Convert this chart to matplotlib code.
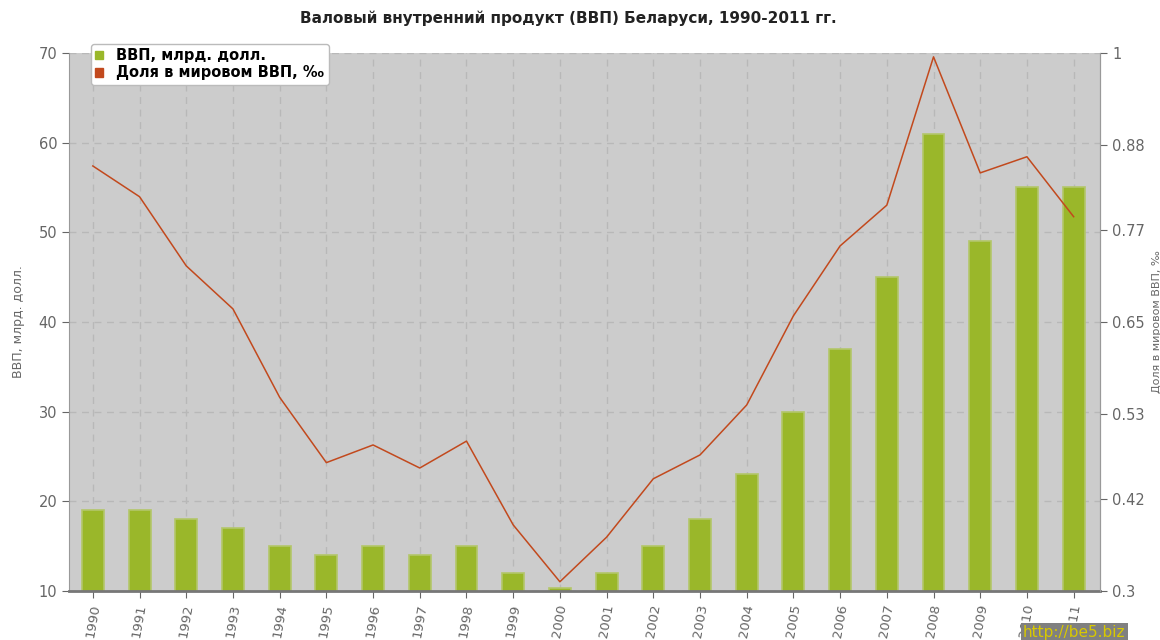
import matplotlib.pyplot as plt
import numpy as np

years = [str(y) for y in range(1990, 2012)]
gdp = [19, 19, 18, 17, 15, 14, 15, 14, 15, 12, 10.3, 12, 15, 18, 23, 30, 37, 45, 61, 49, 55, 55]
share = [0.853, 0.813, 0.723, 0.667, 0.552, 0.467, 0.490, 0.460, 0.495, 0.386, 0.312,
         0.370, 0.446, 0.477, 0.542, 0.658, 0.749, 0.802, 0.995, 0.844, 0.865, 0.787]
left_ticks = [10, 20, 30, 40, 50, 60, 70]
right_ticks = [0.3, 0.42, 0.53, 0.65, 0.77, 0.88, 1]

plt.rcParams['font.family'] = ['DejaVu Sans']
fig = plt.figure(figsize=(11.6, 6.4), dpi=100)
ax = fig.add_axes([0.0595, 0.0766, 0.889, 0.8406])
ax.set_facecolor("#cccccc")

x = np.arange(len(years))
ax.bar(x, gdp, width=0.47, color="#9ab72a", edgecolor="#b3c66a", linewidth=1.2, zorder=2,
       label="ВВП, млрд. долл.")
ax.set_xlim(-0.51, 21.57)
ax.set_ylim(10, 70)
ax.set_yticks(left_ticks)
ax.set_xticks(x)
ax.set_xticklabels(years, rotation=80, color="#666666", fontsize=9.5)
ax.tick_params(axis='y', colors="#666666", labelsize=10.5, length=5)
ax.tick_params(axis='x', length=5, colors="#666666")
ax.grid(True, linestyle=(0, (5, 4)), color="#b8b8b8", linewidth=1, zorder=1)
ax.set_axisbelow(True)
ax.spines['top'].set_visible(False)
ax.spines['left'].set_color("#999999")
ax.spines['right'].set_color("#999999")
ax.spines['bottom'].set_color("#777777")
ax.spines['bottom'].set_linewidth(2)
ax.set_ylabel("ВВП, млрд. долл.", color="#666666", fontsize=9, labelpad=10)

ax2 = ax.twinx()
ax2.plot(x, share, color="#c2491d", linewidth=1.1, zorder=3, label="Доля в мировом ВВП, ‰")
ax2.set_ylim(0.3, 1.0)
ax2.set_yticks(right_ticks)
ax2.set_yticklabels(["0.3", "0.42", "0.53", "0.65", "0.77", "0.88", "1"])
ax2.tick_params(axis='y', colors="#666666", labelsize=10.5, length=5)
for s in ['top', 'left', 'bottom']:
    ax2.spines[s].set_visible(False)
ax2.spines['right'].set_color("#999999")
ax2.set_ylabel("Доля в мировом ВВП, ‰", color="#666666", fontsize=8, labelpad=5)

fig.text(0.49, 0.972, "Валовый внутренний продукт (ВВП) Беларуси, 1990-2011 гг.",
         ha='center', va='center', fontsize=11, weight='bold', color="#222222")

_, l1 = ax.get_legend_handles_labels()
_, l2 = ax2.get_legend_handles_labels()
handles = [plt.Rectangle((0, 0), 1, 1, color="#9ab72a"), plt.Rectangle((0, 0), 1, 1, color="#c2491d")]
leg = fig.legend(handles, l1 + l2, loc='upper left', bbox_to_anchor=(0.072, 0.943),
                 handlelength=0.55, handleheight=0.55, handletextpad=0.9,
                 borderpad=0.3, labelspacing=0.15, fancybox=True, framealpha=1,
                 edgecolor="#bbbbbb", prop={'weight': 'bold', 'size': 10.5})
leg.set_zorder(10)

fig.text(0.882, 0.0, "http://be5.biz", color="#d8c800", fontsize=11, ha='left', va='bottom',
         bbox=dict(facecolor="#808080", edgecolor='none', pad=1.5))

fig.savefig("out.png", dpi=100)
